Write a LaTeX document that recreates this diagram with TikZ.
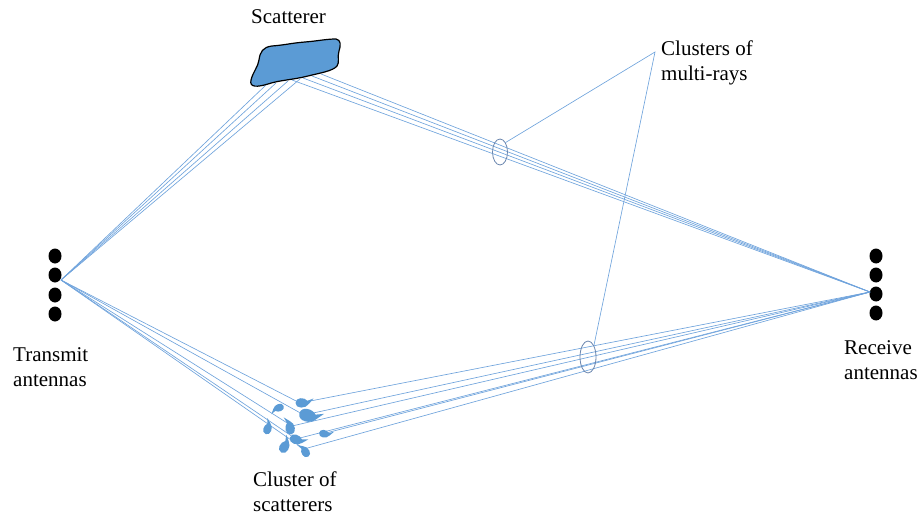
\documentclass[tikz,border=0pt]{standalone}
\usepackage{fontspec}
\setmainfont{Liberation Serif}
\usetikzlibrary{shapes.geometric}
\definecolor{rayc}{HTML}{6FA3DC}
\definecolor{blobc}{HTML}{5B9BD5}
\definecolor{ringc}{HTML}{6A86AE}
\tikzset{
  ray/.style={draw=rayc, line width=0.65pt},
  ring/.style={draw=ringc, line width=0.8pt},
  antdot/.style={ellipse, fill=black, draw=none, minimum width=13pt, minimum height=15pt, inner sep=0pt},
  lbl/.style={inner sep=0pt, font=\fontsize{21}{25}\selectfont, align=left},
  drop/.pic={\fill[blobc] (-5,0) .. controls (-5,-4) and (1,-4) .. (3,-1.5) -- (7,-3) -- (4,0.5) .. controls (2,4) and (-5,4) .. (-5,0) -- cycle;}
}
\begin{document}
\begin{tikzpicture}[x=1pt,y=-1pt]
\useasboundingbox (0,0) rectangle (923,516);

% antennas
\foreach \y [count=\i] in {256,275,295,314} {\node[antdot] (t\i) at (55,\y) {};}
\foreach \y [count=\i] in {256,275,294,313} {\node[antdot] (r\i) at (876,\y) {};}
\coordinate (tx) at (61,280);
\coordinate (rx) at (870,292);

% big scatterer
\coordinate (s1) at (266,85);
\coordinate (s2) at (276,83);
\coordinate (s3) at (288,81);
\coordinate (s4) at (300,79);
\coordinate (u1) at (292,80);
\coordinate (u2) at (303,78);
\coordinate (u3) at (312,76);
\coordinate (u4) at (321,74);
\foreach \p in {s1,s2,s3,s4} {\draw[ray] (tx) -- (\p);}
\foreach \p in {u1,u2,u3,u4} {\draw[ray] (\p) -- (rx);}
\filldraw[fill=blobc, draw=black, line width=1.2pt]
  (251,80) .. controls (253,72) and (258,67) .. (259,60)
  .. controls (260,52) and (263,47) .. (272,46)
  .. controls (285,45) and (292,43) .. (305,42)
  .. controls (318,41) and (326,39) .. (336,39)
  .. controls (341,40) and (341,45) .. (339,51)
  .. controls (337,57) and (340,62) .. (337,66)
  .. controls (333,71) and (320,73) .. (308,76)
  .. controls (292,80) and (280,80) .. (268,84)
  .. controls (258,87) and (249,88) .. (251,80) -- cycle;

% cluster of scatterers
\coordinate (p1) at (300,403);
\coordinate (p2) at (304,415);
\coordinate (p3) at (292,426);
\coordinate (p4) at (296,439);
\coordinate (p5) at (304,449);
\coordinate (p6) at (326,433);
\foreach \p in {p1,p2,p3,p4,p5} {\draw[ray] (tx) -- (\p);}
\foreach \p in {p1,p2,p3,p4,p5,p6} {\draw[ray] (\p) -- (rx);}
\pic[scale=1.5] at (303,403) {drop};
\pic[scale=2.0, rotate=-15] at (309,416) {drop};
\pic[scale=1.2, rotate=200] at (278,408) {drop};
\pic[scale=1.5, rotate=100] at (290,427) {drop};
\pic[scale=1.3, rotate=70] at (268,428) {drop};
\pic[scale=1.5, rotate=-20] at (297,440) {drop};
\pic[scale=1.2, rotate=-10] at (325,434) {drop};
\pic[scale=1.5, rotate=60] at (285,446) {drop};
\pic[scale=1.3, rotate=120] at (305,451) {drop};

% rings and callouts
\node[ring, ellipse, minimum width=15pt, minimum height=26pt, inner sep=0pt] (e1) at (500,152) {};
\node[ring, ellipse, minimum width=16pt, minimum height=32pt, inner sep=0pt] (e2) at (588,357) {};
\coordinate (apex) at (655,52);
\draw[ray] (e1.north east) -- (apex) -- (e2.north east);

% labels
\node[lbl, anchor=base west] (lscat) at (251,24) {Scatterer};
\node[lbl, anchor=north west] (ltx) at (13,347) {Transmit\\antennas};
\node[lbl, anchor=north west] (lrx) at (844,340) {Receive\\antennas};
\node[lbl, anchor=north west] (lcl) at (253,472) {Cluster of\\scatterers};
\node[lbl, anchor=north west] (lmr) at (661,41) {Clusters of\\multi-rays};
\end{tikzpicture}
\end{document}
